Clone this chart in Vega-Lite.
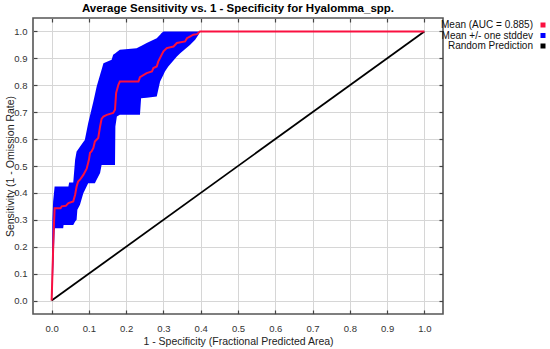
{
  "$schema": "https://vega.github.io/schema/vega-lite/v6.json",
  "width": 410,
  "height": 296,
  "autosize": "none",
  "padding": {"left": 33, "top": 18, "right": 107, "bottom": 35},
  "background": "white",
  "config": {
    "font": "Liberation Sans",
    "view": {"stroke": "#555555", "strokeWidth": 1.6},
    "axis": {"labelFont": "Liberation Sans", "titleFont": "Liberation Sans", "labelFontSize": 9.5, "titleFontSize": 10.5, "titleFontWeight": "normal", "labelColor": "#333333", "titleColor": "#222222", "domain": false, "gridColor": "#d6d6d6", "gridWidth": 1, "tickColor": "#444444", "tickWidth": 1.2}
  },
  "title": {"text": "Average Sensitivity vs. 1 - Specificity for Hyalomma_spp.", "font": "Liberation Sans", "fontSize": 11.5, "fontWeight": "bold", "color": "#000000", "anchor": "middle", "offset": 3},
  "datasets": {
    "band": [
      {"x": 0.000, "lo": 0.000, "hi": 0.000},
      {"x": 0.002, "lo": 0.030, "hi": 0.300},
      {"x": 0.004, "lo": 0.100, "hi": 0.368},
      {"x": 0.006, "lo": 0.180, "hi": 0.396},
      {"x": 0.008, "lo": 0.260, "hi": 0.424},
      {"x": 0.009, "lo": 0.269, "hi": 0.424},
      {"x": 0.031, "lo": 0.269, "hi": 0.424},
      {"x": 0.032, "lo": 0.281, "hi": 0.424},
      {"x": 0.045, "lo": 0.281, "hi": 0.424},
      {"x": 0.047, "lo": 0.281, "hi": 0.439},
      {"x": 0.058, "lo": 0.281, "hi": 0.439},
      {"x": 0.063, "lo": 0.294, "hi": 0.523},
      {"x": 0.067, "lo": 0.300, "hi": 0.554},
      {"x": 0.069, "lo": 0.337, "hi": 0.558},
      {"x": 0.076, "lo": 0.356, "hi": 0.572},
      {"x": 0.085, "lo": 0.399, "hi": 0.589},
      {"x": 0.089, "lo": 0.410, "hi": 0.597},
      {"x": 0.098, "lo": 0.436, "hi": 0.659},
      {"x": 0.112, "lo": 0.436, "hi": 0.740},
      {"x": 0.116, "lo": 0.436, "hi": 0.765},
      {"x": 0.121, "lo": 0.450, "hi": 0.796},
      {"x": 0.130, "lo": 0.474, "hi": 0.839},
      {"x": 0.134, "lo": 0.504, "hi": 0.858},
      {"x": 0.139, "lo": 0.504, "hi": 0.882},
      {"x": 0.161, "lo": 0.504, "hi": 0.895},
      {"x": 0.165, "lo": 0.504, "hi": 0.913},
      {"x": 0.170, "lo": 0.504, "hi": 0.918},
      {"x": 0.171, "lo": 0.647, "hi": 0.919},
      {"x": 0.175, "lo": 0.684, "hi": 0.924},
      {"x": 0.183, "lo": 0.690, "hi": 0.932},
      {"x": 0.228, "lo": 0.690, "hi": 0.938},
      {"x": 0.237, "lo": 0.690, "hi": 0.944},
      {"x": 0.240, "lo": 0.752, "hi": 0.946},
      {"x": 0.255, "lo": 0.754, "hi": 0.957},
      {"x": 0.282, "lo": 0.758, "hi": 0.975},
      {"x": 0.291, "lo": 0.814, "hi": 0.988},
      {"x": 0.295, "lo": 0.825, "hi": 0.994},
      {"x": 0.300, "lo": 0.839, "hi": 1.000},
      {"x": 0.304, "lo": 0.851, "hi": 1.000},
      {"x": 0.313, "lo": 0.870, "hi": 1.000},
      {"x": 0.336, "lo": 0.907, "hi": 1.000},
      {"x": 0.345, "lo": 0.919, "hi": 1.000},
      {"x": 0.371, "lo": 0.950, "hi": 1.000},
      {"x": 0.385, "lo": 0.969, "hi": 1.000},
      {"x": 0.394, "lo": 0.988, "hi": 1.000},
      {"x": 0.398, "lo": 1.000, "hi": 1.000}
    ],
    "mean": [
      {"x": 0.000, "y": 0.000},
      {"x": 0.003, "y": 0.140},
      {"x": 0.005, "y": 0.240},
      {"x": 0.008, "y": 0.343},
      {"x": 0.024, "y": 0.343},
      {"x": 0.027, "y": 0.350},
      {"x": 0.038, "y": 0.352},
      {"x": 0.045, "y": 0.362},
      {"x": 0.058, "y": 0.368},
      {"x": 0.063, "y": 0.393},
      {"x": 0.067, "y": 0.424},
      {"x": 0.071, "y": 0.442},
      {"x": 0.076, "y": 0.449},
      {"x": 0.085, "y": 0.467},
      {"x": 0.094, "y": 0.490},
      {"x": 0.100, "y": 0.523},
      {"x": 0.103, "y": 0.549},
      {"x": 0.107, "y": 0.554},
      {"x": 0.112, "y": 0.567},
      {"x": 0.116, "y": 0.591},
      {"x": 0.125, "y": 0.604},
      {"x": 0.130, "y": 0.647},
      {"x": 0.134, "y": 0.675},
      {"x": 0.139, "y": 0.684},
      {"x": 0.148, "y": 0.690},
      {"x": 0.165, "y": 0.697},
      {"x": 0.170, "y": 0.709},
      {"x": 0.173, "y": 0.771},
      {"x": 0.179, "y": 0.802},
      {"x": 0.183, "y": 0.814},
      {"x": 0.233, "y": 0.814},
      {"x": 0.237, "y": 0.830},
      {"x": 0.255, "y": 0.845},
      {"x": 0.269, "y": 0.851},
      {"x": 0.273, "y": 0.864},
      {"x": 0.282, "y": 0.870},
      {"x": 0.286, "y": 0.888},
      {"x": 0.295, "y": 0.913},
      {"x": 0.300, "y": 0.926},
      {"x": 0.309, "y": 0.938},
      {"x": 0.327, "y": 0.944},
      {"x": 0.336, "y": 0.957},
      {"x": 0.358, "y": 0.963},
      {"x": 0.363, "y": 0.975},
      {"x": 0.371, "y": 0.981},
      {"x": 0.380, "y": 0.988},
      {"x": 0.390, "y": 0.990},
      {"x": 0.398, "y": 1.000},
      {"x": 1.000, "y": 1.000}
    ],
    "random": [
      {"x": 0, "y": 0},
      {"x": 1, "y": 1}
    ]
  },
  "resolve": {"axis": {"x": "independent", "y": "independent"}},
  "layer": [
    {
      "data": {"name": "band"},
      "mark": {"type": "area", "opacity": 1},
      "encoding": {
        "x": {"field": "x", "type": "quantitative", "scale": {"domain": [-0.05, 1.05], "nice": false, "zero": false},
              "axis": {"orient": "bottom", "values": [0, 0.1, 0.2, 0.3, 0.4, 0.5, 0.6, 0.7, 0.8, 0.9, 1.0], "format": ".1f", "grid": true, "tickSize": -4, "labelPadding": 13, "title": "1 - Specificity (Fractional Predicted Area)", "titlePadding": 4}},
        "y": {"field": "hi", "type": "quantitative", "scale": {"domain": [-0.05, 1.05], "nice": false, "zero": false},
              "axis": {"orient": "left", "values": [0, 0.1, 0.2, 0.3, 0.4, 0.5, 0.6, 0.7, 0.8, 0.9, 1.0], "format": ".1f", "grid": true, "tickSize": -4, "labelPadding": 10, "title": "Sensitivity (1 - Omission Rate)", "titleX": -23, "titleBaseline": "middle"}},
        "y2": {"field": "lo"},
        "color": {"datum": "Mean +/- one stddev", "type": "nominal",
                  "scale": {"domain": ["Mean (AUC = 0.885)", "Mean +/- one stddev", "Random Prediction"], "range": ["#fa1040", "#0000ff", "#000000"]},
                  "legend": {"title": null, "orient": "none", "legendX": 505, "legendY": 2, "padding": 0, "symbolType": "square", "symbolSize": 25, "symbolStrokeWidth": 0, "labelAlign": "right", "labelOffset": -15, "labelFont": "Liberation Sans", "labelFontSize": 10, "labelColor": "#111111", "rowPadding": 0.5,
                             "encode": {"symbols": {"update": {"fill": {"scale": "color", "field": "value"}, "stroke": {"value": "transparent"}, "opacity": {"value": 1}}}}}}
      }
    },
    {
      "data": {"name": "random"},
      "mark": {"type": "line", "strokeWidth": 1.8},
      "encoding": {
        "x": {"field": "x", "type": "quantitative", "axis": {"orient": "top", "values": [0, 0.1, 0.2, 0.3, 0.4, 0.5, 0.6, 0.7, 0.8, 0.9, 1.0], "labels": false, "grid": false, "tickSize": -4, "title": null}},
        "y": {"field": "y", "type": "quantitative", "axis": {"orient": "right", "values": [0, 0.1, 0.2, 0.3, 0.4, 0.5, 0.6, 0.7, 0.8, 0.9, 1.0], "labels": false, "grid": false, "tickSize": -4, "title": null}},
        "color": {"datum": "Random Prediction", "type": "nominal"}
      }
    },
    {
      "data": {"name": "mean"},
      "mark": {"type": "line", "strokeWidth": 2},
      "encoding": {
        "x": {"field": "x", "type": "quantitative", "axis": null},
        "y": {"field": "y", "type": "quantitative", "axis": null},
        "color": {"datum": "Mean (AUC = 0.885)", "type": "nominal"}
      }
    }
  ]
}
